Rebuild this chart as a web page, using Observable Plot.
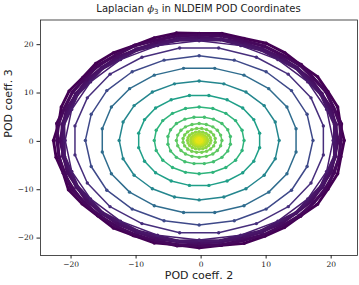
<!DOCTYPE html>
<html>
<head>
<meta charset="utf-8">
<script src="https://cdn.jsdelivr.net/npm/d3@7"></script>
<script src="https://cdn.jsdelivr.net/npm/@observablehq/plot@0.6"></script>
<style>
  html, body { margin: 0; padding: 0; background: white; }
</style>
</head>
<body>
<div id="chart"></div>
<script>
// ---- Data (POD coeff. 2 = x, POD coeff. 3 = y) ----
const band1X = [22.0, 21.4, 21.0, 19.5, 17.9, 15.3, 12.9, 10.0, 6.6, 3.2, -0.3, -3.8, -7.2, -10.3, -13.5, -16.2, -18.2, -20.3, -21.5, -21.9, -22.7, -22.3, -21.2, -20.4, -18.3, -15.9, -13.5, -10.3, -7.2, -3.7, -0.3, 3.1, 6.6, 9.8, 12.8, 15.3, 17.9, 19.5, 21.0, 21.5];
const band1Y = [0.2, 3.6, 7.1, 10.3, 13.4, 15.8, 18.3, 20.3, 21.3, 22.3, 22.3, 22.4, 21.4, 19.8, 18.3, 16.1, 13.2, 10.4, 7.1, 3.6, 0.2, -3.3, -6.6, -10.0, -12.9, -15.4, -17.9, -19.5, -21.0, -21.4, -22.0, -21.5, -21.1, -19.6, -17.8, -15.4, -13.0, -9.9, -6.7, -3.2];
const band5X = [21.6, 19.2, 15.4, 9.7, 3.1, -3.8, -10.2, -16.0, -19.8, -22.2, -21.9, -20.0, -15.8, -10.4, -3.7, 3.2, 9.6, 15.3, 19.4, 21.3];
const band5Y = [3.6, 10.3, 15.9, 19.7, 22.1, 21.9, 19.9, 15.7, 10.2, 3.7, -3.2, -9.8, -15.4, -19.5, -21.6, -21.4, -19.4, -15.5, -9.7, -3.3];
const band2X = [21.5, 21.3, 20.4, 19.2, 17.3, 15.2, 12.5, 9.7, 6.4, 3.1, -0.3, -3.7, -7.0, -10.3, -13.1, -15.8, -17.9, -19.8, -21.0, -21.9, -22.2, -21.8, -21.1, -19.7, -18.0, -15.7, -13.2, -10.2, -7.1, -3.7, -0.3, 3.1, 6.5, 9.6, 12.6, 15.1, 17.4, 19.1, 20.5, 21.2];
const band2Y = [0.2, 3.6, 6.9, 10.2, 13.0, 15.7, 17.8, 19.7, 20.9, 21.8, 22.0, 21.8, 20.9, 19.7, 17.9, 15.6, 13.0, 10.1, 6.9, 3.6, 0.2, -3.2, -6.6, -9.7, -12.7, -15.2, -17.5, -19.2, -20.6, -21.3, -21.6, -21.4, -20.5, -19.3, -17.4, -15.3, -12.6, -9.7, -6.5, -3.2];
const band3X = [21.1, 20.1, 17.0, 12.3, 6.3, -0.3, -6.9, -12.9, -17.6, -20.7, -21.7, -20.6, -17.6, -12.9, -6.9, -0.3, 6.3, 12.3, 17.0, 20.0];
const band3Y = [0.2, 6.8, 12.8, 17.5, 20.6, 21.6, 20.5, 17.5, 12.8, 6.8, 0.2, -6.4, -12.4, -17.1, -20.2, -21.2, -20.1, -17.1, -12.4, -6.4];
const band6X = [20.8, 18.6, 14.8, 9.4, 3.0, -3.6, -10.0, -15.3, -19.3, -21.4, -21.3, -19.2, -15.4, -10.0, -3.6, 3.0, 9.4, 14.7, 18.7, 20.7];
const band6Y = [3.5, 9.9, 15.3, 19.2, 21.2, 21.3, 19.1, 15.3, 9.9, 3.5, -3.1, -9.5, -14.9, -18.8, -20.8, -20.9, -18.8, -14.8, -9.5, -3.1];
const band4X = [20.5, 18.4, 14.6, 9.2, 3.0, -3.6, -9.8, -15.2, -19.0, -21.1, -21.0, -19.0, -15.2, -9.8, -3.6, 3.0, 9.2, 14.6, 18.4, 20.5];
const band4Y = [3.5, 9.7, 15.1, 18.9, 21.0, 20.9, 18.9, 15.0, 9.7, 3.5, -3.1, -9.3, -14.7, -18.5, -20.6, -20.5, -18.5, -14.7, -9.3, -3.1];
const ring1X = [20.3, 19.3, 16.4, 11.8, 6.1, -0.3, -6.7, -12.4, -17.0, -19.9, -20.9, -19.9, -17.0, -12.4, -6.7, -0.3, 6.1, 11.8, 16.4, 19.3];
const ring1Y = [0.2, 6.6, 12.3, 16.9, 19.8, 20.8, 19.8, 16.9, 12.3, 6.6, 0.2, -6.2, -11.9, -16.5, -19.4, -20.4, -19.4, -16.5, -11.9, -6.2];
const ring2X = [18.8, 16.9, 13.4, 8.5, 2.7, -3.3, -9.1, -14.0, -17.5, -19.4, -19.4, -17.5, -14.0, -9.1, -3.3, 2.7, 8.5, 13.4, 16.9, 18.8];
const ring2Y = [3.2, 9.0, 13.9, 17.4, 19.3, 19.3, 17.4, 13.9, 9.0, 3.2, -2.8, -8.6, -13.5, -17.0, -18.9, -18.9, -17.0, -13.5, -8.6, -2.8];
const ring3X = [17.2, 16.3, 13.9, 10.0, 5.1, -0.3, -5.7, -10.6, -14.5, -16.9, -17.8, -16.9, -14.5, -10.6, -5.7, -0.3, 5.1, 10.0, 13.9, 16.3];
const ring3Y = [0.2, 5.6, 10.5, 14.4, 16.8, 17.7, 16.8, 14.4, 10.5, 5.6, 0.2, -5.2, -10.1, -14.0, -16.4, -17.3, -16.4, -14.0, -10.1, -5.2];
const ring4X = [14.6, 13.2, 10.4, 6.6, 2.1, -2.7, -7.2, -11.0, -13.8, -15.2, -15.2, -13.8, -11.0, -7.2, -2.7, 2.1, 6.6, 10.4, 13.2, 14.6];
const ring4Y = [2.6, 7.1, 10.9, 13.7, 15.1, 15.1, 13.7, 10.9, 7.1, 2.6, -2.2, -6.7, -10.5, -13.3, -14.7, -14.7, -13.3, -10.5, -6.7, -2.2];
const ring5X = [12.0, 11.4, 9.7, 6.9, 3.5, -0.3, -4.1, -7.5, -10.3, -12.0, -12.6, -12.0, -10.3, -7.5, -4.1, -0.3, 3.5, 6.9, 9.7, 11.4];
const ring5Y = [0.2, 4.0, 7.4, 10.2, 11.9, 12.5, 11.9, 10.2, 7.4, 4.0, 0.2, -3.6, -7.0, -9.8, -11.5, -12.1, -11.5, -9.8, -7.0, -3.6];
const ring6X = [9.0, 8.1, 6.4, 4.0, 1.2, -1.8, -4.6, -7.0, -8.7, -9.6, -9.6, -8.7, -7.0, -4.6, -1.8, 1.2, 4.0, 6.4, 8.1, 9.0];
const ring6Y = [1.7, 4.5, 6.9, 8.6, 9.5, 9.5, 8.6, 6.9, 4.5, 1.7, -1.3, -4.1, -6.5, -8.2, -9.1, -9.1, -8.2, -6.5, -4.1, -1.3];
const ring7X = [6.6, 6.3, 5.3, 3.8, 1.8, -0.3, -2.4, -4.4, -5.9, -6.9, -7.2, -6.9, -5.9, -4.4, -2.4, -0.3, 1.8, 3.8, 5.3, 6.3];
const ring7Y = [0.2, 2.3, 4.3, 5.8, 6.8, 7.1, 6.8, 5.8, 4.3, 2.3, 0.2, -1.9, -3.9, -5.4, -6.4, -6.7, -6.4, -5.4, -3.9, -1.9];
const ring8X = [4.5, 4.1, 3.2, 1.9, 0.5, -1.1, -2.5, -3.8, -4.7, -5.1, -5.1, -4.7, -3.8, -2.5, -1.1, 0.5, 1.9, 3.2, 4.1, 4.5];
const ring8Y = [1.0, 2.4, 3.7, 4.6, 5.0, 5.0, 4.6, 3.7, 2.4, 1.0, -0.6, -2.0, -3.3, -4.2, -4.6, -4.6, -4.2, -3.3, -2.0, -0.6];
const ring9X = [3.2, 3.0, 2.5, 1.8, 0.8, -0.3, -1.4, -2.4, -3.1, -3.6, -3.8, -3.6, -3.1, -2.4, -1.4, -0.3, 0.8, 1.8, 2.5, 3.0];
const ring9Y = [0.2, 1.3, 2.3, 3.0, 3.5, 3.7, 3.5, 3.0, 2.3, 1.3, 0.2, -0.9, -1.9, -2.6, -3.1, -3.3, -3.1, -2.6, -1.9, -0.9];
const ring10X = [2.17, 1.93, 1.47, 0.84, 0.09, -0.69, -1.44, -2.07, -2.53, -2.77, -2.77, -2.53, -2.07, -1.44, -0.69, 0.09, 0.84, 1.47, 1.93, 2.17];
const ring10Y = [0.59, 1.34, 1.97, 2.43, 2.67, 2.67, 2.43, 1.97, 1.34, 0.59, -0.19, -0.94, -1.57, -2.03, -2.27, -2.27, -2.03, -1.57, -0.94, -0.19];
const ring11X = [1.5, 1.41, 1.16, 0.76, 0.26, -0.3, -0.86, -1.36, -1.76, -2.01, -2.1, -2.01, -1.76, -1.36, -0.86, -0.3, 0.26, 0.76, 1.16, 1.41];
const ring11Y = [0.2, 0.76, 1.26, 1.66, 1.91, 2.0, 1.91, 1.66, 1.26, 0.76, 0.2, -0.36, -0.86, -1.26, -1.51, -1.6, -1.51, -1.26, -0.86, -0.36];
const ring12X = [0.98, 0.86, 0.62, 0.29, -0.1, -0.5, -0.89, -1.22, -1.46, -1.58, -1.58, -1.46, -1.22, -0.89, -0.5, -0.1, 0.29, 0.62, 0.86, 0.98];
const ring12Y = [0.4, 0.79, 1.12, 1.36, 1.48, 1.48, 1.36, 1.12, 0.79, 0.4, 0.0, -0.39, -0.72, -0.96, -1.08, -1.08, -0.96, -0.72, -0.39, 0.0];
const ring13X = [0.6, 0.56, 0.43, 0.23, -0.02, -0.3, -0.58, -0.83, -1.03, -1.16, -1.2, -1.16, -1.03, -0.83, -0.58, -0.3, -0.02, 0.23, 0.43, 0.56];
const ring13Y = [0.2, 0.48, 0.73, 0.93, 1.06, 1.1, 1.06, 0.93, 0.73, 0.48, 0.2, -0.08, -0.33, -0.53, -0.66, -0.7, -0.66, -0.53, -0.33, -0.08];
const ring14X = [0.29, 0.23, 0.12, -0.03, -0.21, -0.39, -0.57, -0.72, -0.83, -0.89, -0.89, -0.83, -0.72, -0.57, -0.39, -0.21, -0.03, 0.12, 0.23, 0.29];
const ring14Y = [0.29, 0.47, 0.62, 0.73, 0.79, 0.79, 0.73, 0.62, 0.47, 0.29, 0.11, -0.07, -0.22, -0.33, -0.39, -0.39, -0.33, -0.22, -0.07, 0.11];
const ring15X = [0.05, -0.02, -0.19, -0.41, -0.58, -0.65, -0.58, -0.41, -0.19, -0.02];
const ring15Y = [0.2, 0.41, 0.53, 0.53, 0.41, 0.2, -0.01, -0.13, -0.13, -0.01];

// colour value (normalised time) of each loop, outer to inner
const ringT = [0.0, 0.01, 0.02, 0.035, 0.045, 0.055, 0.08, 0.13, 0.22, 0.35, 0.46, 0.56, 0.65, 0.7, 0.75, 0.79, 0.83, 0.87, 0.9, 0.93, 0.96];
const bandCount = 6; // outermost loops that pile up into the dense band

const xTicks = [-20, -10, 0, 10, 20];
const yTicks = [-20, -10, 0, 10, 20];
const titleText = ["Laplacian ", "ϕ", "3", " in NLDEIM POD Coordinates"];
const xLabel = "POD coeff. 2";
const yLabel = "POD coeff. 3";

// ---- build table ----
const ringXs = [band1X, band5X, band2X, band3X, band6X, band4X, ring1X, ring2X, ring3X, ring4X, ring5X, ring6X, ring7X, ring8X, ring9X, ring10X, ring11X, ring12X, ring13X, ring14X, ring15X];
const ringYs = [band1Y, band5Y, band2Y, band3Y, band6Y, band4Y, ring1Y, ring2Y, ring3Y, ring4Y, ring5Y, ring6Y, ring7Y, ring8Y, ring9Y, ring10Y, ring11Y, ring12Y, ring13Y, ring14Y, ring15Y];

const dots = [];
const lines = [];
ringXs.forEach((xs, i) => {
  xs.forEach((x, j) => {
    const d = {ring: i, x, y: ringYs[i][j], t: ringT[i]};
    dots.push(d);
    lines.push(d);
  });
  lines.push({ring: i, x: xs[0], y: ringYs[i][0], t: ringT[i]});
});
const bandLines = lines.filter(d => d.ring < bandCount);
const innerLines = lines.filter(d => d.ring >= bandCount);

const chart = Plot.plot({
  width: 359,
  height: 285,
  marginLeft: 40,
  marginRight: 2,
  marginTop: 19.5,
  marginBottom: 30,
  style: {background: "white", fontFamily: "DejaVu Sans", color: "#222"},
  x: {domain: [-24.7, 24.05]},
  y: {domain: [-23.6, 25.1]},
  color: {type: "linear", scheme: "viridis", domain: [0, 1]},
  marks: [
    Plot.line(bandLines, {x: "x", y: "y", z: "ring", stroke: "t", strokeWidth: 2.9}),
    Plot.line(innerLines, {x: "x", y: "y", z: "ring", stroke: "t", strokeWidth: 1.5}),
    Plot.dot(dots, {x: "x", y: "y", fill: "t", r: 1.7}),
    Plot.frame({stroke: "#222", strokeWidth: 0.8}),
    Plot.axisX(xTicks, {tickSize: 3.5, tickPadding: 2.5, fontFamily: "DejaVu Serif", fontSize: 7.5, label: null, stroke: "#222"}),
    Plot.axisY(yTicks, {tickSize: 3.5, tickPadding: 3.5, fontFamily: "DejaVu Serif", fontSize: 7.5, label: null, stroke: "#222"}),
    Plot.text([xLabel], {frameAnchor: "bottom", dy: 23.5, fontSize: 11, fill: "#222"}),
    Plot.text([yLabel], {frameAnchor: "left", dx: -32, rotate: -90, fontSize: 11, fill: "#222"})
  ]
});

const svg = d3.select(chart);
const title = svg.append("text")
  .attr("x", 198.5)
  .attr("y", 12)
  .attr("text-anchor", "middle")
  .attr("font-family", "DejaVu Sans")
  .attr("font-size", 10)
  .attr("fill", "#222");
title.append("tspan").text(titleText[0]);
title.append("tspan").attr("font-family", "DejaVu Serif").attr("font-style", "italic").text(titleText[1]);
title.append("tspan").attr("font-size", 7).attr("dy", 2).text(titleText[2]);
title.append("tspan").attr("dy", -2).text(titleText[3]);

document.getElementById("chart").appendChild(chart);
</script>
</body>
</html>
